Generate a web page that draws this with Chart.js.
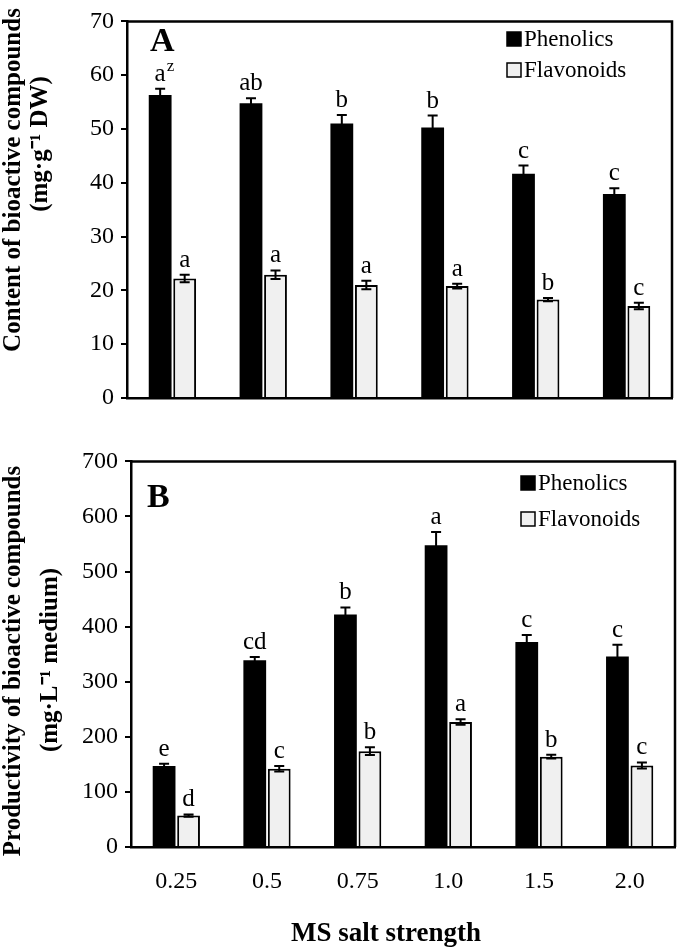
<!DOCTYPE html>
<html>
<head>
<meta charset="utf-8">
<script src="https://cdn.jsdelivr.net/npm/chart.js@4"></script>
<style>
  body { margin: 0; background: #fff; width: 685px; height: 949px; overflow: hidden; }
  .panel { position: absolute; left: 0; width: 685px; }
  #wrapA { top: 0; height: 440px; }
  #wrapB { top: 440px; height: 509px; }
</style>
</head>
<body>
<div class="panel" id="wrapA"><canvas id="chartA" width="685" height="440"></canvas></div>
<div class="panel" id="wrapB"><canvas id="chartB" width="685" height="509"></canvas></div>
<script>
const strengths = ["0.25", "0.5", "0.75", "1.0", "1.5", "2.0"]
const seriesNames = ["Phenolics", "Flavonoids"]

// panel A: content (mg·g-1 DW)
const contentTicks = [0, 10, 20, 30, 40, 50, 60, 70]
const contentPhenolics = [56.3, 54.8, 51.0, 50.3, 41.7, 37.9]
const contentPhenolicsErr = [1.2, 0.9, 1.6, 2.2, 1.5, 1.1]
const contentFlavonoids = [22.2, 22.9, 21.0, 20.8, 18.3, 17.1]
const contentFlavonoidsErr = [0.7, 0.8, 0.8, 0.45, 0.3, 0.6]
const contentPhenolicsLetters = ["a^z", "ab", "b", "b", "c", "c"]
const contentFlavonoidsLetters = ["a", "a", "a", "a", "b", "c"]

// panel B: productivity (mg·L-1 medium)
const prodTicks = [0, 100, 200, 300, 400, 500, 600, 700]
const prodPhenolics = [147, 339, 422, 548, 372, 346]
const prodPhenolicsErr = [4, 6, 13, 24, 13, 21]
const prodFlavonoids = [57, 142, 174, 227, 164, 148]
const prodFlavonoidsErr = [2, 5, 7, 5, 3.5, 5.5]
const prodPhenolicsLetters = ["e", "cd", "b", "a", "c", "c"]
const prodFlavonoidsLetters = ["d", "c", "b", "a", "b", "c"]

const SERIF = "'Liberation Serif', 'Times New Roman', serif"
const GREY = "#f0f0f0"

// error bars + significance letters
const errorBars = {
  id: "errorBars",
  afterDatasetsDraw(chart) {
    const ctx = chart.ctx
    const y = chart.scales.y
    ctx.save()
    chart.data.datasets.forEach((ds, i) => {
      chart.getDatasetMeta(i).data.forEach((bar, j) => {
        const v = ds.data[j], e = ds.errors[j]
        const top = y.getPixelForValue(v + e)
        const bot = y.getPixelForValue(v - e)
        ctx.strokeStyle = "#000"
        ctx.lineWidth = 2
        ctx.beginPath()
        ctx.moveTo(bar.x, bot); ctx.lineTo(bar.x, top)
        ctx.moveTo(bar.x - 5, top); ctx.lineTo(bar.x + 5, top)
        ctx.moveTo(bar.x - 5, bot); ctx.lineTo(bar.x + 5, bot)
        ctx.stroke()

        const [main, sup] = ds.letters[j].split("^")
        ctx.fillStyle = "#000"
        ctx.textBaseline = "alphabetic"
        ctx.font = `25px ${SERIF}`
        const w = ctx.measureText(main).width
        ctx.textAlign = "left"
        ctx.fillText(main, bar.x - w / 2, top - 8)
        if (sup) {
          ctx.font = `17px ${SERIF}`
          ctx.fillText(sup, bar.x + w / 2 + 1, top - 18)
        }
      })
    })
    ctx.restore()
  }
}

// box around plot area, legend, axis titles, panel letter
const decorations = {
  id: "decorations",
  afterDraw(chart, args, o) {
    const ctx = chart.ctx
    const a = chart.chartArea
    ctx.save()
    ctx.strokeStyle = "#000"
    ctx.lineWidth = 2.5
    ctx.beginPath()
    ctx.moveTo(a.left, a.top); ctx.lineTo(a.right, a.top); ctx.lineTo(a.right, a.bottom)
    ctx.stroke()

    // legend
    ctx.font = `23px ${SERIF}`
    ctx.textBaseline = "middle"
    ctx.textAlign = "left"
    chart.data.datasets.forEach((ds, i) => {
      const ly = o.legend.y + i * o.legend.gap
      ctx.fillStyle = ds.backgroundColor
      ctx.fillRect(o.legend.x, ly - 7, 14, 14)
      ctx.lineWidth = 1.5
      ctx.strokeRect(o.legend.x, ly - 7, 14, 14)
      ctx.fillStyle = "#000"
      ctx.fillText(ds.label, o.legend.x + 17, ly + 1)
    })

    // panel letter
    ctx.font = `bold 34px ${SERIF}`
    ctx.textBaseline = "alphabetic"
    ctx.fillText(o.panel.text, o.panel.x, o.panel.y)

    // y title lines (rotated)
    ctx.font = `bold 25px ${SERIF}`
    ctx.textAlign = "center"
    ctx.textBaseline = "middle"
    o.yTitle.forEach(t => {
      ctx.save()
      ctx.translate(t.x, t.y)
      ctx.rotate(-Math.PI / 2)
      ctx.fillText(t.text, 0, 0)
      ctx.restore()
    })

    if (o.xTitle) {
      ctx.font = `bold 27px ${SERIF}`
      ctx.fillText(o.xTitle.text, o.xTitle.x, o.xTitle.y)
    }
    ctx.restore()
  }
}

function makeChart(id, cfg) {
  return new Chart(document.getElementById(id), {
    type: "bar",
    data: {
      labels: strengths,
      datasets: [
        {
          label: seriesNames[0], data: cfg.phen, errors: cfg.phenErr, letters: cfg.phenLetters,
          backgroundColor: "#000", borderColor: "#000", borderWidth: 0,
          categoryPercentage: 0.54, barPercentage: 0.93
        },
        {
          label: seriesNames[1], data: cfg.flav, errors: cfg.flavErr, letters: cfg.flavLetters,
          backgroundColor: GREY, borderColor: "#000", borderWidth: 2,
          categoryPercentage: 0.54, barPercentage: 0.93
        }
      ]
    },
    options: {
      responsive: false,
      animation: false,
      layout: { padding: { left: 0, top: cfg.top, right: cfg.right, bottom: 0 } },
      plugins: {
        legend: { display: false },
        tooltip: { enabled: false },
        decorations: cfg.deco
      },
      scales: {
        x: {
          grid: { display: false, drawTicks: false },
          border: { color: "#000", width: 2.5 },
          ticks: {
            display: cfg.showX, padding: 20, color: "#000",
            font: { family: SERIF, size: 24 }
          },
          afterFit: s => { s.height = cfg.xHeight }
        },
        y: {
          min: cfg.ticks[0],
          max: cfg.ticks[cfg.ticks.length - 1],
          grid: { drawOnChartArea: false, drawTicks: true, tickLength: 6, color: "#000", lineWidth: 2 },
          border: { color: "#000", width: 2.5 },
          ticks: {
            stepSize: cfg.ticks[1] - cfg.ticks[0], padding: 7, color: "#000",
            font: { family: SERIF, size: 24 }
          },
          afterFit: s => { s.width = cfg.yWidth }
        }
      }
    },
    plugins: [errorBars, decorations]
  })
}

makeChart("chartA", {
  phen: contentPhenolics, phenErr: contentPhenolicsErr, phenLetters: contentPhenolicsLetters,
  flav: contentFlavonoids, flavErr: contentFlavonoidsErr, flavLetters: contentFlavonoidsLetters,
  ticks: contentTicks, top: 18, right: 13, yWidth: 127, xHeight: 42, showX: false,
  deco: {
    legend: { x: 507, y: 39, gap: 31 },
    panel: { text: "A", x: 150, y: 51 },
    yTitle: [
      { text: "Content of bioactive compounds", x: 14, y: 180 },
      { text: "(mg·g\u207B\u00B9 DW)", x: 41, y: 144 }
    ]
  }
})

makeChart("chartB", {
  phen: prodPhenolics, phenErr: prodPhenolicsErr, phenLetters: prodPhenolicsLetters,
  flav: prodFlavonoids, flavErr: prodFlavonoidsErr, flavLetters: prodFlavonoidsLetters,
  ticks: prodTicks, top: 21, right: 10, yWidth: 131, xHeight: 102, showX: true,
  deco: {
    legend: { x: 521, y: 43, gap: 36 },
    panel: { text: "B", x: 147, y: 67 },
    yTitle: [
      { text: "Productivity of bioactive compounds", x: 14, y: 221 },
      { text: "(mg·L\u207B\u00B9 medium)", x: 51, y: 220 }
    ],
    xTitle: { text: "MS salt strength", x: 386, y: 494 }
  }
})
</script>
</body>
</html>
